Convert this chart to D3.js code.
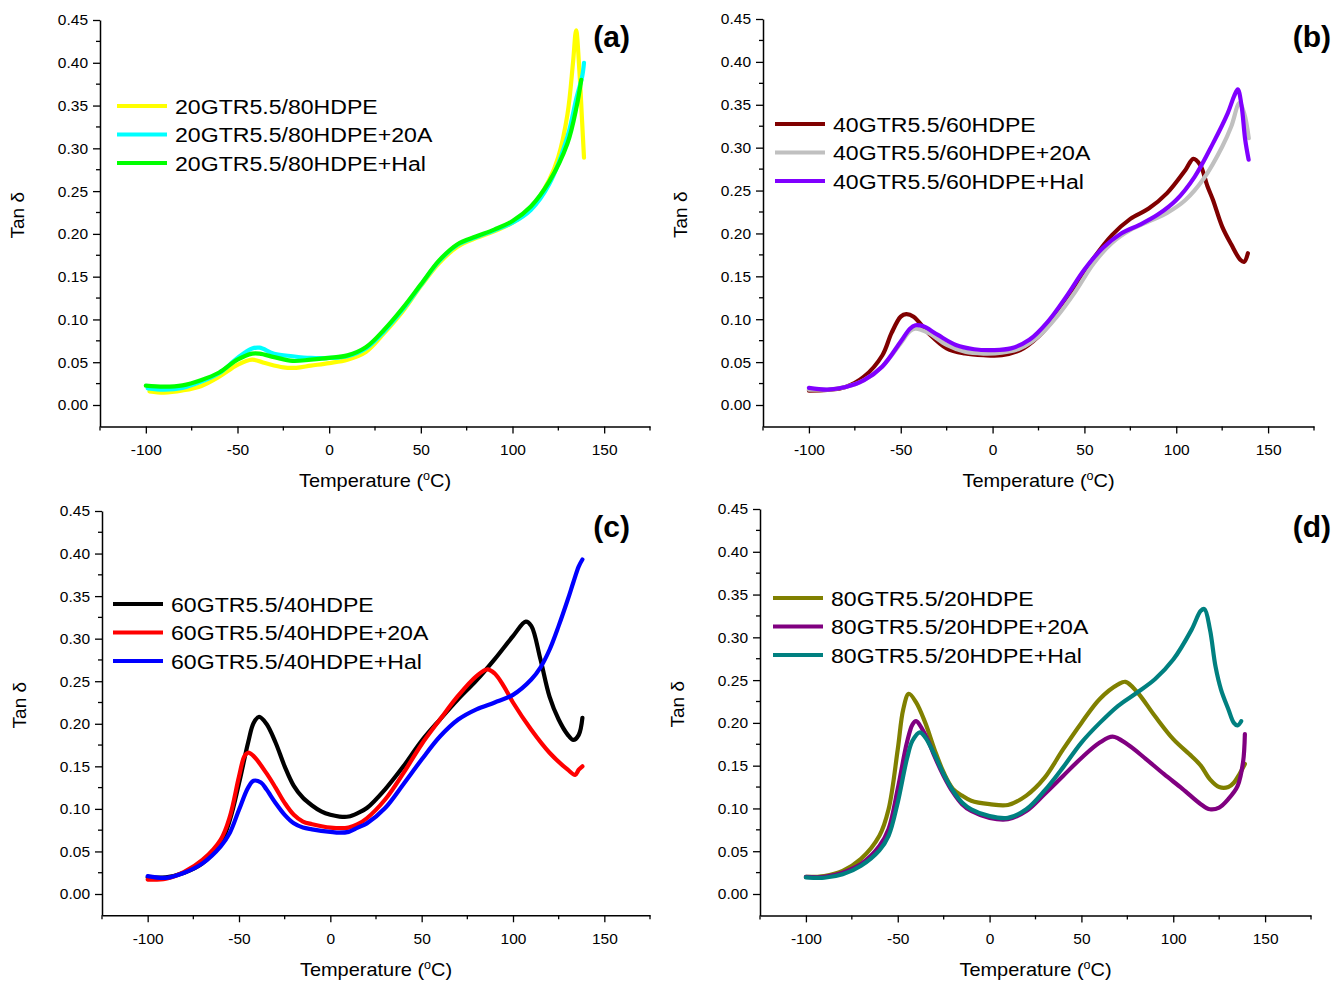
<!DOCTYPE html>
<html>
<head>
<meta charset="utf-8">
<script src="https://cdn.jsdelivr.net/npm/d3@7"></script>
<style>
  html, body { margin: 0; padding: 0; background: #fff; }
  svg { display: block; font-family: "Liberation Sans", Arial, Helvetica, sans-serif; }
</style>
</head>
<body>
<svg id="chart" width="1343" height="983"></svg>
<script>
// ---------- tick labels ----------
const xTickValues = [-100, -50, 0, 50, 100, 150];
const xMinorTicks = [-125, -75, -25, 25, 75, 125, 175];
const yTickValues = [0.00, 0.05, 0.10, 0.15, 0.20, 0.25, 0.30, 0.35, 0.40, 0.45];
const yMinorTicks = [0.025, 0.075, 0.125, 0.175, 0.225, 0.275, 0.325, 0.375, 0.425];
const xLabel = "Temperature (";
const yLabel = "Tan \u03B4";

// ---------- panel (a) ----------
const namesA = ["20GTR5.5/80HDPE", "20GTR5.5/80HDPE+20A", "20GTR5.5/80HDPE+Hal"];
const a1T = [-98,-90,-80,-70,-60,-50,-42,-35,-25,-18,-10,0,10,20,30,40,50,60,70,80,90,100,110,120,125,130,133,134.7,136.5,138,139];
const a1V = [0.016,0.0145,0.017,0.022,0.033,0.047,0.053,0.049,0.044,0.0435,0.046,0.049,0.053,0.062,0.084,0.109,0.139,0.166,0.185,0.195,0.203,0.213,0.230,0.263,0.29,0.34,0.40,0.438,0.39,0.33,0.289];
const a2T = [-99,-90,-80,-70,-60,-50,-42,-38,-30,-20,-10,0,10,20,30,40,50,60,70,80,90,100,110,120,130,135,138,139];
const a2V = [0.0195,0.018,0.020,0.027,0.037,0.055,0.066,0.067,0.060,0.057,0.055,0.055,0.057,0.066,0.086,0.111,0.140,0.168,0.187,0.196,0.204,0.213,0.228,0.258,0.314,0.36,0.384,0.40];
const a3T = [-100,-90,-80,-70,-60,-50,-42,-38,-30,-20,-10,0,10,20,30,40,50,60,70,80,90,100,110,120,130,135,137.5];
const a3V = [0.0226,0.0215,0.023,0.029,0.038,0.053,0.060,0.060,0.056,0.0515,0.053,0.055,0.058,0.0675,0.088,0.113,0.141,0.169,0.188,0.197,0.205,0.215,0.232,0.261,0.306,0.349,0.38];

// ---------- panel (b) ----------
const namesB = ["40GTR5.5/60HDPE", "40GTR5.5/60HDPE+20A", "40GTR5.5/60HDPE+Hal"];
const b1T = [-100,-90,-80,-70,-60,-55,-50,-47,-43,-35,-25,-15,-5,5,15,25,35,45,55,65,75,85,95,105,109.3,113,117,120,125,130,135,137,139];
const b1V = [0.0167,0.0175,0.021,0.033,0.058,0.084,0.103,0.106,0.103,0.084,0.066,0.060,0.058,0.058,0.064,0.080,0.105,0.138,0.171,0.198,0.217,0.229,0.247,0.274,0.287,0.28,0.255,0.239,0.208,0.187,0.169,0.167,0.177];
const b2T = [-100,-90,-80,-70,-60,-50,-45,-42,-35,-25,-15,-5,5,15,25,35,45,55,65,75,85,95,105,115,125,130,134.4,137,139.5];
const b2V = [0.018,0.018,0.021,0.029,0.045,0.072,0.086,0.089,0.084,0.070,0.062,0.060,0.061,0.066,0.080,0.103,0.132,0.165,0.189,0.204,0.214,0.224,0.239,0.264,0.301,0.325,0.352,0.34,0.311];
const b3T = [-100,-90,-80,-70,-60,-50,-45,-42,-38,-30,-20,-10,0,10,20,30,40,50,60,70,80,90,100,110,120,128,131.5,133.5,135.5,137.5,139.4];
const b3V = [0.020,0.018,0.021,0.029,0.045,0.074,0.089,0.093,0.092,0.082,0.070,0.065,0.064,0.066,0.076,0.097,0.126,0.158,0.183,0.200,0.210,0.222,0.239,0.266,0.305,0.340,0.360,0.368,0.35,0.31,0.286];

// ---------- panel (c) ----------
const namesC = ["60GTR5.5/40HDPE", "60GTR5.5/40HDPE+20A", "60GTR5.5/40HDPE+Hal"];
const c1T = [-100,-90,-80,-70,-60,-55,-50,-45,-42,-39,-35,-30,-25,-20,-15,-10,-5,0,5,10,15,20,30,40,50,60,70,80,90,100,107,110,115,120,125,130,133,136,138];
const c1V = [0.0196,0.0196,0.025,0.036,0.060,0.087,0.130,0.178,0.201,0.208,0.200,0.178,0.150,0.127,0.113,0.104,0.097,0.093,0.091,0.091,0.095,0.101,0.123,0.150,0.180,0.205,0.229,0.251,0.276,0.303,0.320,0.315,0.276,0.232,0.205,0.187,0.181,0.187,0.207];
const c2T = [-100,-90,-80,-70,-60,-55,-50,-47,-45,-42,-35,-30,-25,-20,-15,-10,0,10,15,20,30,40,50,60,70,80,86,90,95,100,110,120,130,134,136,138];
const c2V = [0.017,0.018,0.026,0.040,0.064,0.091,0.138,0.162,0.166,0.162,0.142,0.125,0.107,0.093,0.085,0.082,0.078,0.078,0.082,0.089,0.111,0.142,0.176,0.205,0.233,0.256,0.264,0.259,0.244,0.225,0.193,0.166,0.146,0.140,0.146,0.150];
const c3T = [-100,-90,-80,-70,-60,-55,-50,-45,-42,-38,-35,-30,-25,-20,-15,-10,0,5,10,15,20,30,40,50,60,70,80,90,100,110,115,120,125,130,133,136,138];
const c3V = [0.021,0.019,0.025,0.036,0.056,0.072,0.099,0.125,0.133,0.131,0.123,0.107,0.093,0.083,0.078,0.076,0.073,0.072,0.073,0.078,0.083,0.101,0.129,0.158,0.185,0.205,0.217,0.225,0.234,0.252,0.266,0.287,0.315,0.346,0.366,0.385,0.393];

// ---------- panel (d) ----------
const namesD = ["80GTR5.5/20HDPE", "80GTR5.5/20HDPE+20A", "80GTR5.5/20HDPE+Hal"];
const d1T = [-100,-90,-80,-70,-60,-55,-50,-47,-44,-40,-35,-30,-25,-20,-15,-10,0,10,20,30,40,50,60,70,74,80,90,100,110,115,120,125,130,133,136,139];
const d1V = [0.020,0.021,0.027,0.041,0.068,0.099,0.169,0.216,0.234,0.224,0.200,0.169,0.142,0.123,0.115,0.109,0.105,0.104,0.115,0.136,0.169,0.200,0.228,0.245,0.248,0.237,0.208,0.181,0.161,0.150,0.134,0.125,0.125,0.130,0.140,0.152];
const d2T = [-100,-90,-80,-70,-60,-55,-50,-45,-42,-40,-37,-33,-30,-25,-20,-15,-10,0,10,20,30,40,50,60,67,75,85,95,105,115,120,125,130,135,138,139];
const d2V = [0.020,0.020,0.025,0.035,0.056,0.076,0.123,0.177,0.198,0.202,0.194,0.177,0.161,0.138,0.119,0.105,0.097,0.089,0.0875,0.097,0.117,0.138,0.159,0.177,0.184,0.175,0.158,0.140,0.123,0.105,0.099,0.101,0.111,0.126,0.154,0.187];
const d3T = [-100,-90,-80,-70,-60,-55,-50,-45,-42,-38,-35,-30,-25,-20,-15,-10,0,10,20,30,40,50,60,70,80,90,100,110,115,117,120,123,126,130,133,135,137];
const d3V = [0.0195,0.019,0.023,0.033,0.051,0.068,0.107,0.158,0.179,0.189,0.183,0.163,0.140,0.121,0.107,0.099,0.091,0.089,0.099,0.121,0.148,0.177,0.200,0.220,0.235,0.251,0.274,0.309,0.331,0.333,0.309,0.266,0.239,0.216,0.200,0.197,0.202];

// ---------- layout (positions / styles) ----------
const panels = [
  { tag: "(a)", names: namesA, colors: ["#FFFF00", "#00FFFF", "#00FF00"],
    series: [[a1T, a1V], [a2T, a2V], [a3T, a3V]],
    x0: 100, x1: 650, yTop: 20, yZero: 405,
    legX: 117, legY: 106, tagX: 630, tagY: 47 },
  { tag: "(b)", names: namesB, colors: ["#800000", "#C0C0C0", "#8000FF"],
    series: [[b1T, b1V], [b2T, b2V], [b3T, b3V]],
    x0: 763, x1: 1314, yTop: 19, yZero: 405,
    legX: 775, legY: 124, tagX: 1331, tagY: 47 },
  { tag: "(c)", names: namesC, colors: ["#000000", "#FF0000", "#0000FF"],
    series: [[c1T, c1V], [c2T, c2V], [c3T, c3V]],
    x0: 102, x1: 650, yTop: 511, yZero: 894,
    legX: 113, legY: 604, tagX: 630, tagY: 537 },
  { tag: "(d)", names: namesD, colors: ["#808000", "#800080", "#008080"],
    series: [[d1T, d1V], [d2T, d2V], [d3T, d3V]],
    x0: 760, x1: 1311, yTop: 509, yZero: 894,
    legX: 773, legY: 598, tagX: 1331, tagY: 537 }
];

const svg = d3.select("#chart");
svg.append("rect").attr("width", 1343).attr("height", 983).attr("fill", "#fff");

panels.forEach(p => {
  const yBottom = p.yZero + (p.yZero - p.yTop) / 0.45 * 0.025;
  const x = d3.scaleLinear().domain([-125, 175]).range([p.x0, p.x1]);
  const y = d3.scaleLinear().domain([-0.025, 0.45]).range([yBottom, p.yTop]);
  const g = svg.append("g");

  // x axis
  const xAxis = g.append("g").attr("transform", `translate(0,${yBottom})`)
    .call(d3.axisBottom(x).tickValues(xTickValues).tickFormat(d => String(d)).tickSize(7).tickSizeOuter(0).tickPadding(5));
  xAxis.append("g").selectAll("line").data(xMinorTicks).join("line")
    .attr("x1", d => x(d)).attr("x2", d => x(d)).attr("y1", 0).attr("y2", 4).attr("stroke", "#000").attr("stroke-width", 1.3);
  // y axis
  const yAxis = g.append("g").attr("transform", `translate(${p.x0},0)`)
    .call(d3.axisLeft(y).tickValues(yTickValues).tickFormat(d3.format(".2f")).tickSize(7).tickSizeOuter(0).tickPadding(5));
  yAxis.append("g").selectAll("line").data(yMinorTicks).join("line")
    .attr("y1", d => y(d)).attr("y2", d => y(d)).attr("x1", 0).attr("x2", -4).attr("stroke", "#000").attr("stroke-width", 1.3);

  [xAxis, yAxis].forEach(ax => {
    ax.select(".domain").attr("stroke", "#000").attr("stroke-width", 1.5);
    ax.selectAll(".tick line").attr("stroke", "#000").attr("stroke-width", 1.3);
    ax.selectAll(".tick text").attr("fill", "#000").style("font-size", "15.5px")
      .style("font-family", '"Liberation Sans", Arial, sans-serif');
  });
  xAxis.selectAll(".tick text").attr("dy", "1.05em");

  // axis titles
  const xt = g.append("text")
    .attr("transform", `translate(${(p.x0 + p.x1) / 2},${yBottom + 61}) scale(1.05,1)`)
    .attr("text-anchor", "middle").style("font-size", "19px").attr("fill", "#000");
  xt.append("tspan").text(xLabel);
  xt.append("tspan").attr("dy", -7).style("font-size", "12px").text("o");
  xt.append("tspan").attr("dy", 7).text("C)");

  g.append("text")
    .attr("transform", `translate(${p.x0 - 76},${(p.yTop + yBottom) / 2 - 8}) rotate(-90)`)
    .attr("text-anchor", "middle").style("font-size", "19px").attr("fill", "#000").text(yLabel);

  // curves
  const line = d3.line().x(d => x(d[0])).y(d => y(d[1])).curve(d3.curveCatmullRom.alpha(0.5));
  p.series.forEach((s, i) => {
    const pts = s[0].map((t, k) => [t, s[1][k]]);
    g.append("path").datum(pts).attr("d", line)
      .attr("fill", "none").attr("stroke", p.colors[i]).attr("stroke-width", 4.2)
      .attr("stroke-linejoin", "round").attr("stroke-linecap", "round");
  });

  // legend
  p.names.forEach((n, i) => {
    const ly = p.legY + i * 28.5;
    g.append("line").attr("x1", p.legX).attr("x2", p.legX + 50).attr("y1", ly).attr("y2", ly)
      .attr("stroke", p.colors[i]).attr("stroke-width", 4.2);
    g.append("text").attr("transform", `translate(${p.legX + 58},${ly + 7.5}) scale(1.1,1)`)
      .style("font-size", "21px").attr("fill", "#000").text(n);
  });

  // panel tag
  g.append("text").attr("x", p.tagX).attr("y", p.tagY).attr("text-anchor", "end")
    .style("font-size", "30px").style("font-weight", "bold").attr("fill", "#000").text(p.tag);
});
</script>
</body>
</html>
